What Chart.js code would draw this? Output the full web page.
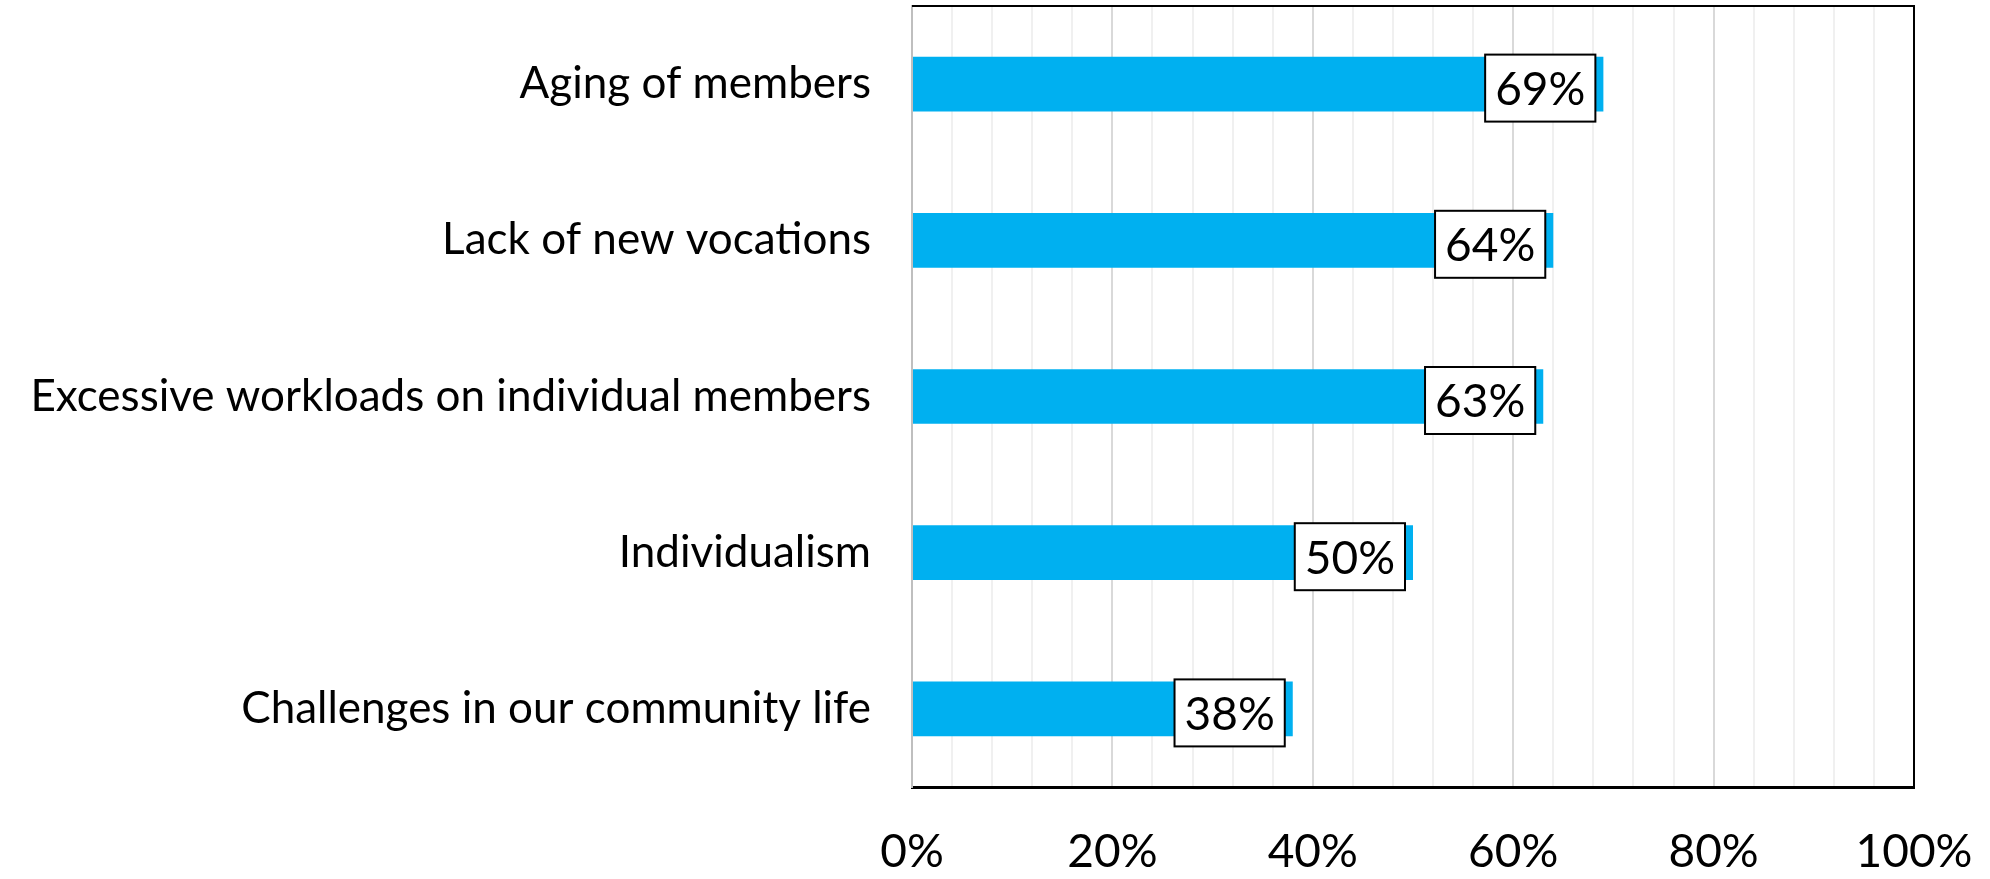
<!DOCTYPE html>
<html>
<head>
<meta charset="utf-8">
<script src="https://cdn.jsdelivr.net/npm/chart.js@4"></script>
<style>
    html, body { margin: 0; padding: 0; background: #ffffff; }
    #wrap { width: 1990px; height: 879px; }
</style>
</head>
<body>
<div id="wrap"><canvas id="bar-chart" width="1990" height="879"></canvas></div>
<script>
const CATEGORIES = [
    'Aging of members',
    'Lack of new vocations',
    'Excessive workloads on individual members',
    'Individualism',
    'Challenges in our community life'
];
const VALUES = [69, 64, 63, 50, 38];
const TICK_LABELS = ['0%', '20%', '40%', '60%', '80%', '100%'];

const FONT = "Lato, 'Open Sans', sans-serif";
const BAR_COLOR = '#00B0F0';

/**
 * White boxed value labels near the end of each bar
 */
const boxLabels = {
    id: 'boxLabels',
    afterDatasetsDraw(chart) {
        const ctx = chart.ctx;
        const meta = chart.getDatasetMeta(0);
        ctx.save();
        ctx.font = '46px ' + FONT;
        ctx.textAlign = 'center';
        ctx.textBaseline = 'middle';
        meta.data.forEach((bar, i) => {
            const text = VALUES[i] + '%';
            const w = ctx.measureText(text).width + 20;
            const h = 67;
            const right = bar.x - 8;
            const cy = bar.y + 4;
            ctx.fillStyle = '#ffffff';
            ctx.fillRect(right - w, cy - h / 2, w, h);
            ctx.strokeStyle = '#000000';
            ctx.lineWidth = 2;
            ctx.strokeRect(right - w, cy - h / 2, w, h);
            ctx.fillStyle = '#000000';
            ctx.fillText(text, right - w / 2, cy + 2);
        });
        ctx.restore();
    }
};

// Top and right frame lines (left axis stays gray)
const frame = {
    id: 'frame',
    afterDraw(chart) {
        const a = chart.chartArea;
        const ctx = chart.ctx;
        ctx.save();
        ctx.strokeStyle = '#000000';
        ctx.lineWidth = 2;
        ctx.beginPath();
        ctx.moveTo(a.left, a.top);
        ctx.lineTo(a.right, a.top);
        ctx.lineTo(a.right, a.bottom);
        ctx.stroke();
        ctx.restore();
    }
};

const ctx = document.getElementById('bar-chart').getContext('2d');
new Chart(ctx, {
    type: 'bar',
    data: {
        labels: CATEGORIES,
        datasets: [{
            data: VALUES,
            backgroundColor: BAR_COLOR,
            borderWidth: 0,
            categoryPercentage: 1,
            barPercentage: 0.35
        }]
    },
    options: {
        indexAxis: 'y',
        responsive: false,
        animation: false,
        layout: {
            padding: { top: 6, right: 76, left: 0, bottom: 0 }
        },
        plugins: {
            legend: { display: false },
            tooltip: { enabled: false }
        },
        scales: {
            x: {
                min: 0,
                max: 100,
                afterFit(scale) {
                    scale.height = 92;
                    scale.paddingLeft = 0;
                    scale.paddingRight = 0;
                },
                border: { color: '#000000', width: 3 },
                grid: {
                    drawTicks: false,
                    color: function(c) {
                        return c.tick.value % 20 === 0 ? '#d9d9d9' : '#f0f0f0';
                    },
                    lineWidth: 2
                },
                ticks: {
                    stepSize: 4,
                    autoSkip: false,
                    maxRotation: 0,
                    padding: 38,
                    color: '#000000',
                    font: { family: FONT, size: 46 },
                    callback: function(value) {
                        return value % 20 === 0 ? TICK_LABELS[value / 20] : '';
                    }
                }
            },
            y: {
                afterFit(scale) {
                    scale.width = 912;
                    scale.paddingTop = 0;
                    scale.paddingBottom = 0;
                },
                border: { color: '#bfbfbf', width: 2 },
                grid: { display: false },
                ticks: {
                    padding: 33,
                    color: '#000000',
                    font: { family: FONT, size: 44 }
                }
            }
        }
    },
    plugins: [boxLabels, frame]
});
</script>
</body>
</html>
